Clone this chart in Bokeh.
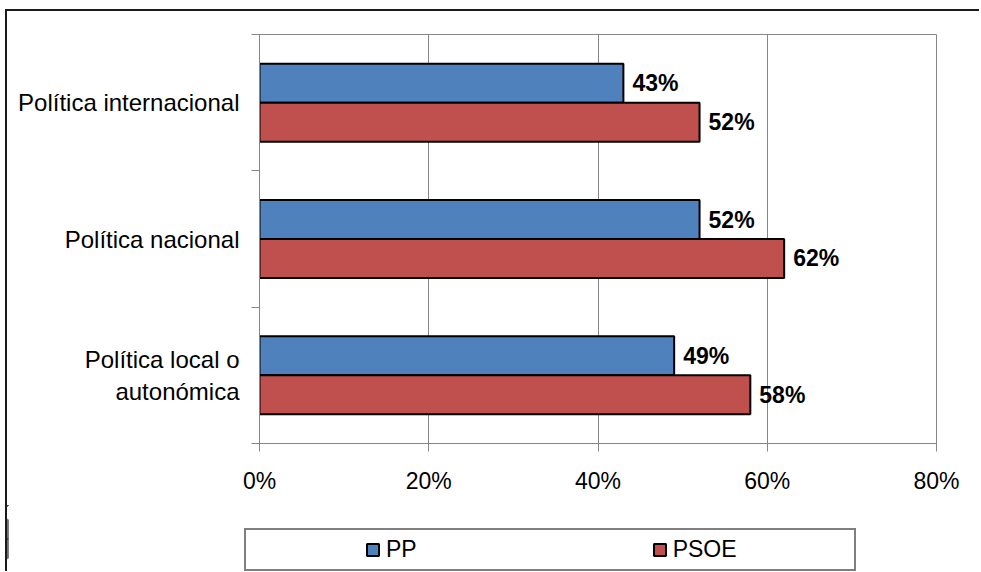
from bokeh.plotting import figure
from bokeh.models import Range1d, FixedTicker, NumeralTickFormatter, Legend, LegendItem, ColumnDataSource
from bokeh.core.properties import value
from bokeh.embed import file_html
from bokeh.resources import INLINE

# ---- data ----
categories = ["Política internacional", "Política nacional", "Política local o\nautonómica"]
series = ["PP", "PSOE"]
pp = [0.43, 0.52, 0.49]
psoe = [0.52, 0.62, 0.58]
x_ticks = [0.0, 0.2, 0.4, 0.6, 0.8]
colors = ["#4F81BD", "#C0504D"]

n = len(categories)
centers = [n - 0.5 - i for i in range(n)]
bar_h = 0.286
off = bar_h / 2.0

FONT = "Liberation Sans"
W = 974

p = figure(width=W, height=562, x_range=Range1d(0, 0.8), y_range=Range1d(0, n),
           output_backend="svg", toolbar_location=None,
           min_border_left=252, min_border_right=45, min_border_top=23, min_border_bottom=130)
p.styles = {"border-top": "2px solid #1a1a1a", "border-left": "2px solid #1a1a1a",
            "margin-left": "5px", "margin-top": "9px", "margin-bottom": "-12px"}
p.background_fill_color = "white"
p.border_fill_color = "white"
p.outline_line_color = "#868686"
p.outline_line_width = 1

sources = []
for vals, sign, col in [(pp, 1, colors[0]), (psoe, -1, colors[1])]:
    src = ColumnDataSource(dict(y=[c + sign * off for c in centers], right=vals,
                                lab=["%d%%" % round(v * 100) for v in vals]))
    sources.append(src)
    p.hbar(y="y", left=0, right="right", height=bar_h, source=src,
           fill_color=col, line_color="black", line_width=2)
    p.text(x="right", y="y", text="lab", source=src, x_offset=9,
           text_baseline="middle", text_align="left",
           text_font=value(FONT), text_font_style="bold", text_font_size="23px",
           text_color="black")

# x axis
xa = p.xaxis[0]
xa.ticker = FixedTicker(ticks=x_ticks)
xa.formatter = NumeralTickFormatter(format="0%")
xa.axis_line_color = "#868686"
xa.major_tick_line_color = "#868686"
xa.major_tick_out = 8
xa.major_tick_in = 0
xa.minor_tick_out = 0
xa.minor_tick_in = 0
xa.major_label_standoff = 16
xa.major_label_text_font = FONT
xa.major_label_text_font_size = "23px"
xa.major_label_text_color = "black"

# y axis
ya = p.yaxis[0]
ya.ticker = FixedTicker(ticks=centers, minor_ticks=[float(i) for i in range(n + 1)])
ya.major_label_overrides = {c: lab for c, lab in zip(centers, categories)}
ya.axis_line_color = "#868686"
ya.major_tick_out = 0
ya.major_tick_in = 0
ya.minor_tick_out = 8
ya.minor_tick_in = 0
ya.minor_tick_line_color = "#868686"
ya.major_label_standoff = 12
ya.major_label_text_font = FONT
ya.major_label_text_font_size = "24px"
ya.major_label_text_color = "black"
ya.major_label_text_align = "center"

p.xgrid.ticker = FixedTicker(ticks=x_ticks)
p.xgrid.grid_line_color = "#868686"
p.xgrid.grid_line_width = 1
p.ygrid.visible = False

# legend strip: transparent overlay placed over the chart's bottom margin
p2 = figure(width=W, height=67, x_range=Range1d(2, 3), y_range=Range1d(0, 1),
            output_backend="svg", toolbar_location=None,
            x_axis_location=None, y_axis_location=None,
            min_border_left=0, min_border_right=0, min_border_top=0, min_border_bottom=0)
p2.styles = {"position": "absolute", "left": "7px", "top": "505px"}
p2.grid.visible = False
p2.outline_line_color = None
p2.background_fill_alpha = 0
p2.border_fill_alpha = 0
leg_r = [p2.hbar(y="y", left=0, right="right", height=bar_h, source=src,
                 fill_color=c, line_color="black", line_width=2)
         for src, c in zip(sources, colors)]
legend = Legend(items=[LegendItem(label=s, renderers=[r]) for s, r in zip(series, leg_r)],
                orientation="horizontal", location=(237, 1))
try:
    legend.padding = (119, 117, 6, 6)
except Exception:
    legend.padding = 6
legend.margin = 0
legend.spacing = 235
legend.glyph_width = 15
legend.glyph_height = 15
legend.label_standoff = 6
legend.label_text_font = FONT
legend.label_text_font_size = "23px"
legend.label_text_color = "black"
legend.border_line_color = "black"
legend.border_line_width = 2
legend.background_fill_color = "white"
legend.background_fill_alpha = 1
p2.add_layout(legend, "center")

open("out.html", "w").write(file_html([p, p2], INLINE))
